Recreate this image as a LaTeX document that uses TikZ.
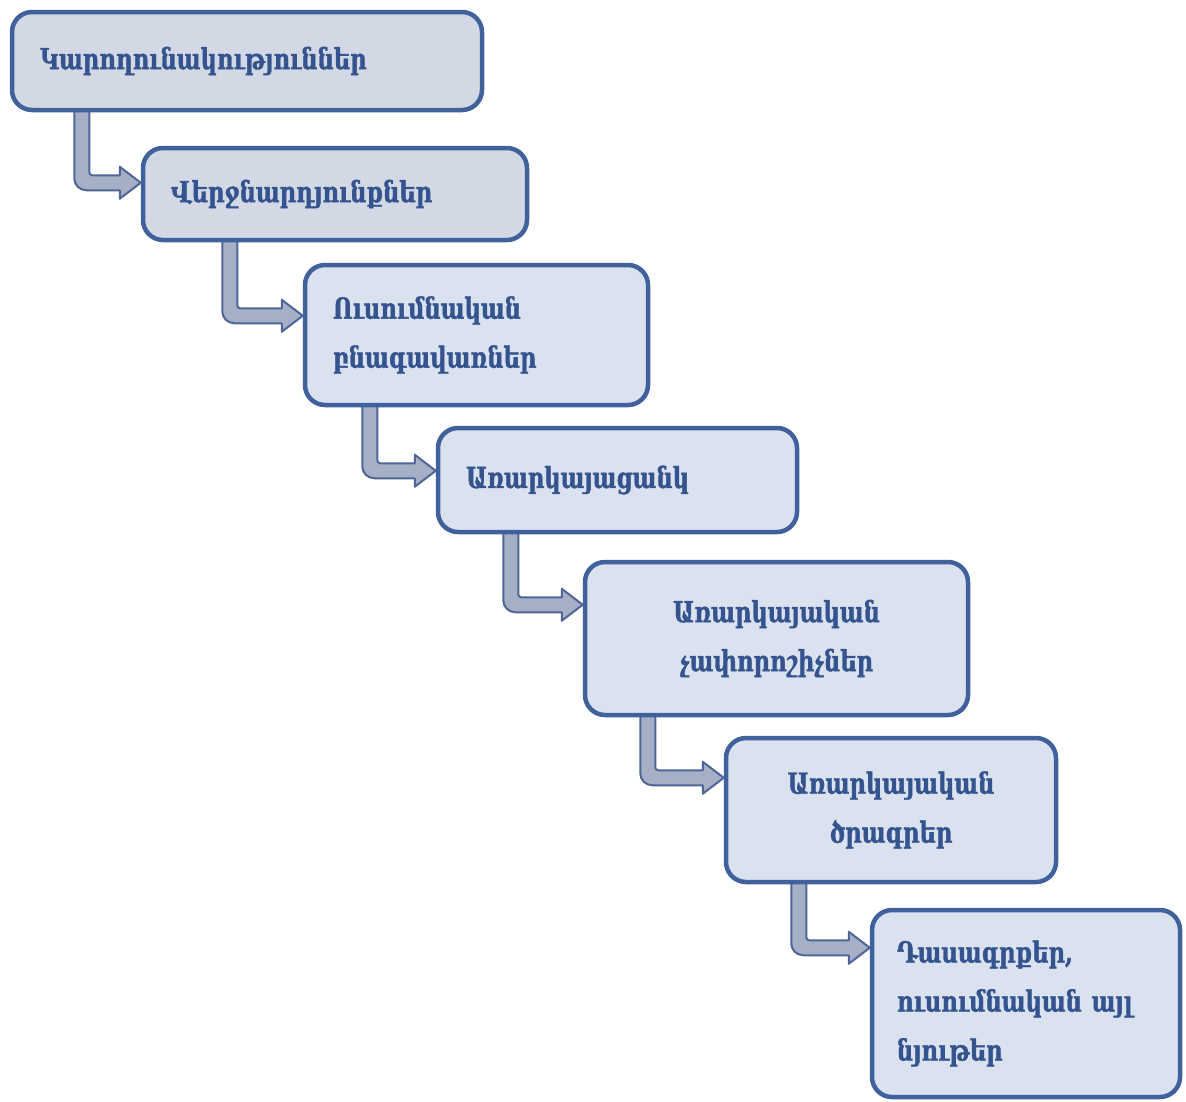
\documentclass[tikz,border=0pt]{standalone}
\usepackage{fontspec}
\usetikzlibrary{calc,backgrounds}
\newfontfamily\armfont[FakeStretch=0.78,FakeBold=1.2]{DejaVu Serif}
\definecolor{boxline}{HTML}{41619C}
\definecolor{boxfillA}{HTML}{D3D9E4}
\definecolor{boxfillB}{HTML}{DAE2F0}
\definecolor{txtcol}{HTML}{34538F}
\definecolor{arrfill}{HTML}{A5B0C6}
\definecolor{arrline}{HTML}{4D6597}
\tikzset{
  stagebox/.style={draw=boxline, line width=4.5pt, rounded corners=20pt, fill=boxfillB,
    inner xsep=28pt, inner ysep=0pt, text=txtcol,
    font=\armfont\bfseries\fontsize{29}{49}\selectfont},
  leftbox/.style={align=left},
  midbox/.style={align=center},
  elbowarrow/.style={fill=arrfill, draw=arrline, line width=2pt, line join=round}
}
\newcommand\elbow[4]{%
  \path[elbowarrow] let \p1=($(#1.south west)+(#3,0)$), \p2=($(#2.north west)+(0,-#4)$) in
    (\x1-7.5pt,\y1+4pt) [rounded corners=12pt] -- (\x1-7.5pt,\y2-7.5pt) [sharp corners]
    -- (\x2-21pt,\y2-7.5pt) -- (\x2-21pt,\y2-16pt) -- (\x2,\y2) -- (\x2-21pt,\y2+16pt)
    -- (\x2-21pt,\y2+7.5pt) [rounded corners=3pt] -- (\x1+7.5pt,\y2+7.5pt) [sharp corners]
    -- (\x1+7.5pt,\y1+4pt) -- cycle;}
\begin{document}
\begin{tikzpicture}[x=1pt,y=-1pt]
\useasboundingbox (0,0) rectangle (1186,1101);
\node[stagebox, leftbox, fill=boxfillA, minimum width=470pt, minimum height=98pt, text width=414pt] (b1) at (247,61) {\raisebox{3pt}{Կարողունակություններ}};
\node[stagebox, leftbox, fill=boxfillA, minimum width=384pt, minimum height=92pt, text width=328pt] (b2) at (335,194) {Վերջնարդյունքներ};
\node[stagebox, leftbox, minimum width=343pt, minimum height=140pt, text width=287pt] (b3) at (476.5,335) {Ուսումնական\\բնագավառներ};
\node[stagebox, leftbox, minimum width=359pt, minimum height=104pt, text width=303pt] (b4) at (617.5,480) {Առարկայացանկ};
\node[stagebox, midbox, minimum width=383pt, minimum height=153pt, text width=327pt] (b5) at (776.5,638.5) {Առարկայական\\չափորոշիչներ};
\node[stagebox, midbox, minimum width=330pt, minimum height=144pt, text width=274pt] (b6) at (891,810) {Առարկայական\\ծրագրեր};
\node[stagebox, leftbox, minimum width=308pt, minimum height=187pt, text width=258pt, inner xsep=25pt] (b7) at (1026,1003.5) {Դասագրքեր,\\ուսումնական այլ\\նյութեր};
\begin{scope}[on background layer]
\elbow{b1}{b2}{72pt}{37pt}
\elbow{b2}{b3}{89pt}{53pt}
\elbow{b3}{b4}{67pt}{45pt}
\elbow{b4}{b5}{75pt}{45pt}
\elbow{b5}{b6}{65pt}{42pt}
\elbow{b6}{b7}{75pt}{40pt}
\end{scope}
\end{tikzpicture}
\end{document}
